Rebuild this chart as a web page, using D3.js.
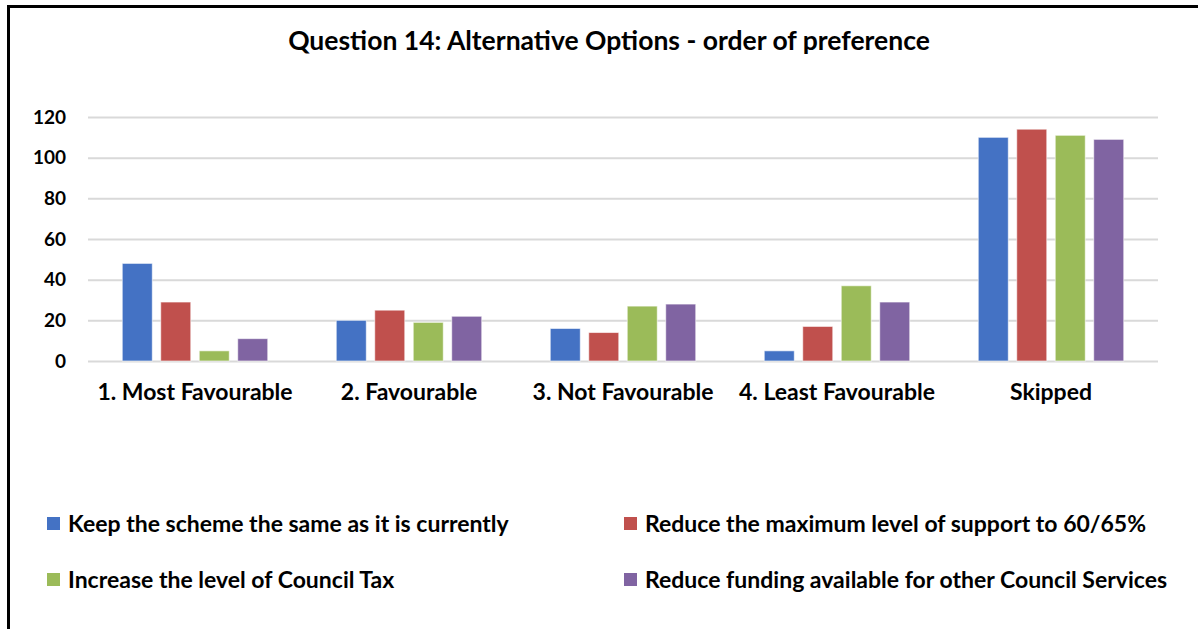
<!DOCTYPE html>
<html><head><meta charset="utf-8">
<script src="https://cdn.jsdelivr.net/npm/d3@7"></script>
<style>html,body{margin:0;padding:0;background:#fff;}svg{display:block;}</style>
</head><body>
<svg id="chart" width="1198" height="629"></svg>
<script>
const categories = ["1. Most Favourable", "2. Favourable", "3. Not Favourable", "4. Least Favourable", "Skipped"];
const seriesNames = [
  "Keep the scheme the same as it is currently",
  "Reduce the maximum level of support to 60/65%",
  "Increase the level of Council Tax",
  "Reduce funding available for other Council Services"
];
const keepSame = [48, 20, 16, 5, 110];
const reduceSupport = [29, 25, 14, 17, 114];
const increaseTax = [5, 19, 27, 37, 111];
const reduceFunding = [11, 22, 28, 29, 109];
const yTicks = [0, 20, 40, 60, 80, 100, 120];
const colors = ["#4472C4", "#C0504D", "#9BBB59", "#8064A2"];
const title = "Question 14: Alternative Options - order of preference";

(function () {
const seriesValues = [keepSame, reduceSupport, increaseTax, reduceFunding];
const FONT = "Lato, 'Open Sans', sans-serif";
const svg = d3.select("#chart");

// frame
svg.append("rect").attr("x", 8.5).attr("y", 6.5).attr("width", 1230).attr("height", 660)
  .attr("fill", "none").attr("stroke", "#000").attr("stroke-width", 3);

svg.append("text").attr("x", 609).attr("y", 50).attr("text-anchor", "middle")
  .attr("font-family", FONT).attr("font-weight", "bold").attr("font-size", 26.5)
  .attr("fill", "#000").text(title);

const pLeft = 88, pRight = 1158, pTop = 117, pBottom = 361;
const x = d3.scaleBand().domain(categories).range([pLeft, pRight]);
const x1 = d3.scaleBand().domain(d3.range(seriesNames.length)).range([0, x.bandwidth()]).paddingInner(0.22).paddingOuter(0.89);
const y = d3.scaleLinear().domain([0, 120]).range([pBottom, pTop]);

// gridlines
const yAxis = d3.axisLeft(y).tickValues(yTicks).tickSize(-(pRight - pLeft)).tickPadding(22);
const gy = svg.append("g").attr("transform", `translate(${pLeft},0)`).call(yAxis);
gy.select(".domain").remove();
gy.selectAll(".tick line").attr("stroke", "#D9D9D9").attr("stroke-width", 2);
gy.selectAll(".tick text").attr("font-family", FONT).attr("font-weight", "bold")
  .attr("font-size", 19).attr("fill", "#000");

// bars
const groups = svg.append("g").selectAll("g").data(categories).join("g")
  .attr("transform", d => `translate(${x(d)},0)`);
groups.selectAll("rect").data((c, ci) => seriesValues.map((s, si) => ({si, v: s[ci]})))
  .join("rect")
  .attr("x", d => x1(d.si)).attr("width", x1.bandwidth())
  .attr("y", d => y(d.v)).attr("height", d => y(0) - y(d.v))
  .attr("fill", d => colors[d.si])
  .attr("stroke", "rgba(255,255,255,0.6)").attr("stroke-width", 1);

// x axis labels
const xAxis = d3.axisBottom(x).tickSize(0).tickPadding(23);
const gx = svg.append("g").attr("transform", `translate(0,${pBottom})`).call(xAxis);
gx.select(".domain").remove();
gx.selectAll(".tick text").attr("font-family", FONT).attr("font-weight", "bold")
  .attr("font-size", 23).attr("fill", "#000");

// legend
const legPos = [[47, 524], [624, 524], [47, 580], [624, 580]];
const leg = svg.append("g").selectAll("g").data(seriesNames).join("g")
  .attr("transform", (d, i) => `translate(${legPos[i][0]},${legPos[i][1]})`);
leg.append("rect").attr("x", 0).attr("y", -7).attr("width", 13).attr("height", 13)
  .attr("fill", (d, i) => colors[i]);
leg.append("text").attr("x", 21).attr("y", 0).attr("dy", "0.35em")
  .attr("font-family", FONT).attr("font-weight", "bold").attr("font-size", 23)
  .attr("fill", "#000").text(d => d);
})();
</script>
</body></html>
